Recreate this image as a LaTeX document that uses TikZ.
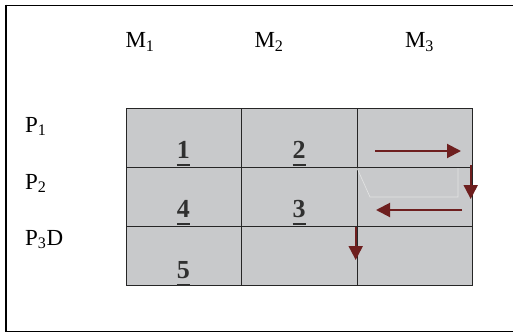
\documentclass[tikz,border=0pt]{standalone}
\usepackage{fontspec}
\setmainfont{Liberation Serif}
\usetikzlibrary{arrows.meta}
\definecolor{cellgray}{HTML}{C8C9CB}
\definecolor{arrowred}{HTML}{6E1F1F}
\definecolor{numgray}{HTML}{303030}
\definecolor{faint}{HTML}{E4E4E4}
\newcommand\bnum[1]{\setbox0\hbox{\textbf{#1}}\makebox[0pt][l]{\textbf{#1}}\rule[-8.3pt]{\wd0}{2.6pt}}
\begin{document}
\begin{tikzpicture}[x=1pt,y=-1pt,
  lab/.style={font=\fontsize{23}{27}\selectfont, anchor=base, inner sep=0pt},
  plab/.style={font=\fontsize{23}{27}\selectfont, anchor=base west, inner sep=0pt},
  num/.style={font=\fontsize{26}{30}\selectfont, text=numgray, anchor=base, inner sep=0pt},
  flow/.style={draw=arrowred, line width=2pt, -{Triangle[length=14pt,width=14pt]}},
  cell/.style={draw=black!85, line width=0.9pt, fill=cellgray, anchor=north west,
    minimum width=115.3pt, minimum height=59pt, inner sep=0pt}]
\useasboundingbox (0,0) rectangle (513,332);
% outer frame
\draw[line width=1pt] (520,5) -- (6,5) -- (6,331) -- (520,331);
\draw[line width=2pt] (6,4.5) -- (6,331.5);
% grid
\foreach \r/\y in {1/108,2/167,3/226}{
  \foreach \c/\x in {1/126,2/241.3,3/356.6}{
    \node[cell] (c\r\c) at (\x,\y) {};
  }
}
% faint trapezoid
\draw[faint, line width=0.6pt] (357,168) -- (370,197) -- (458,197) -- (458,168);
% column labels
\node[lab] (m1) at (140,47.7) {M\textsubscript{1}};
\node[lab] (m2) at (269,47.7) {M\textsubscript{2}};
\node[lab] (m3) at (419.5,47.7) {M\textsubscript{3}};
% row labels
\node[plab] (p1) at (25,132) {P\textsubscript{1}};
\node[plab] (p2) at (25,189) {P\textsubscript{2}};
\node[plab] (p3) at (25,245) {P\textsubscript{3}D};
% numbers
\node[num] (n1) at (183.3,158) {\bnum{1}};
\node[num] (n2) at (299,158) {\bnum{2}};
\node[num] (n4) at (183.3,217) {\bnum{4}};
\node[num] (n3) at (299,217) {\bnum{3}};
\node[num] (n5) at (183.3,278) {\bnum{5}};
% arrows
\coordinate (a1s) at (375,151);
\coordinate (a1e) at (461,151);
\coordinate (a2s) at (470.7,165);
\coordinate (a2e) at (470.7,199);
\coordinate (a3s) at (462,210);
\coordinate (a3e) at (376,210);
\coordinate (a4s) at (355.7,227);
\coordinate (a4e) at (355.7,260);
\draw[flow] (a1s) -- (a1e);
\draw[flow] (a2s) -- (a2e);
\draw[flow] (a3s) -- (a3e);
\draw[flow] (a4s) -- (a4e);
\end{tikzpicture}
\end{document}
